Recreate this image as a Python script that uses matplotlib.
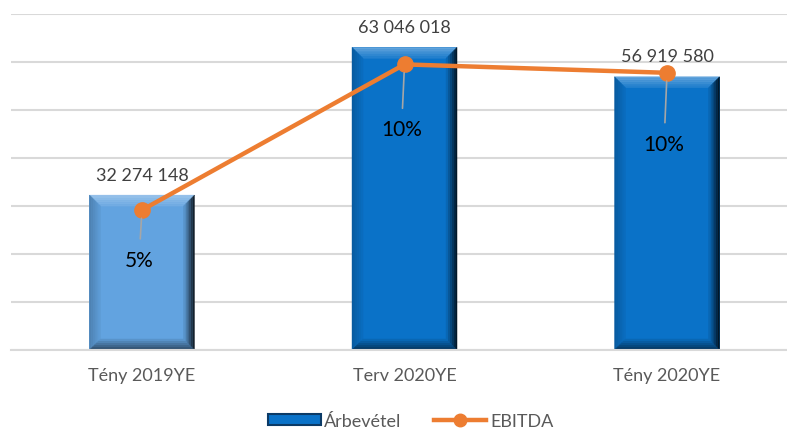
import matplotlib.pyplot as plt
import numpy as np
from matplotlib.patches import Polygon, Patch
from matplotlib.lines import Line2D

categories = ["Tény 2019YE", "Terv 2020YE", "Tény 2020YE"]
revenue = [32274148, 63046018, 56919580]
ebitda_pct = [0.050, 0.102, 0.099]
bar_colors = ["#62A3E0", "#0A72C8", "#0A72C8"]

plt.rcParams['font.family'] = ['Lato', 'DejaVu Sans']

fig = plt.figure(figsize=(7.87, 4.35), dpi=100)
ax = fig.add_axes([11 / 787, 84 / 435, 776 / 787, 336 / 435])
x = np.arange(len(categories))

ax.set_xlim(-0.499, 2.457)
ax.set_ylim(0, 70e6)
ax.set_yticks(np.arange(0, 70e6 + 1, 10e6))
ax.yaxis.grid(True, color="#D9D9D9", linewidth=1.5)
ax.set_axisbelow(True)
for s in ["top", "right", "left"]:
    ax.spines[s].set_visible(False)
ax.spines["bottom"].set_color("#D9D9D9")
ax.spines["bottom"].set_linewidth(1.5)

bars = ax.bar(x, revenue, width=0.4, color=bar_colors, zorder=2)
ax.set_xticks(x)
ax.set_xticklabels(categories)


def shade(c, f):
    c = np.array(plt.matplotlib.colors.to_rgb(c))
    if f < 1:
        return tuple(c * f)
    return tuple(c + (1 - c) * (f - 1))


def bevel(rect, color, px=11, steps=6):
    # bevelled edges drawn in pixel units, converted back to data coords
    to_px = ax.transData
    x0, y0 = to_px.transform((rect.get_x(), 0))
    x1, y1 = to_px.transform((rect.get_x() + rect.get_width(), rect.get_height()))
    inv = to_px.inverted()
    for i in range(steps):
        a = px * i / steps
        b = px * (i + 1) / steps
        t = i / (steps - 1)
        faces = {
            "top": ([(x0 + a, y1 - a), (x1 - a, y1 - a), (x1 - b, y1 - b), (x0 + b, y1 - b)],
                    shade(color, 1.35 - 0.25 * t)),
            "left": ([(x0 + a, y0 + a), (x0 + a, y1 - a), (x0 + b, y1 - b), (x0 + b, y0 + b)],
                     shade(color, 0.8 + 0.15 * t)),
            "right": ([(x1 - a, y0 + a), (x1 - a, y1 - a), (x1 - b, y1 - b), (x1 - b, y0 + b)],
                      shade(color, 0.2 + 0.7 * t)),
            "bottom": ([(x0 + a, y0 + a), (x1 - a, y0 + a), (x1 - b, y0 + b), (x0 + b, y0 + b)],
                       shade(color, 0.45 + 0.45 * t)),
        }
        for pts, col in faces.values():
            ax.add_patch(Polygon(inv.transform(pts), closed=True, facecolor=col,
                                 edgecolor=col, linewidth=0.3, zorder=2.5))


for rect, col in zip(bars, bar_colors):
    bevel(rect, col)

for xi, v in zip(x, revenue):
    label = f"{v:,}".replace(",", " ")
    ax.annotate(label, (xi, v), xytext=(0, 9), textcoords="offset points",
                ha="center", va="bottom", fontsize=13, color="#404040")

ax2 = ax.twinx()
ax2.set_ylim(0, 0.12)
ax2.set_axis_off()
ax2.plot(x, ebitda_pct, color="#ED7D31", linewidth=3.2, marker="o",
         markersize=11, zorder=3)

# twinx switches the left ticks back on, so hide them afterwards
ax.tick_params(axis="y", left=False, right=False, labelleft=False, labelright=False)
ax.tick_params(axis="x", length=0, labelsize=13, labelcolor="#595959", pad=12)

offsets = [-50, -65, -71]
for xi, p, off in zip(x, ebitda_pct, offsets):
    ax2.annotate(f"{p:.0%}", (xi, p), xytext=(-3, off), textcoords="offset pixels",
                 ha="center", va="center", fontsize=15, color="black",
                 arrowprops=dict(arrowstyle="-", color="#A6A6A6", lw=1.2,
                                 shrinkA=6, shrinkB=-6))

handles = [Patch(facecolor="#0A72C8", edgecolor="#0B3A66", linewidth=1.5),
           Line2D([], [], color="#ED7D31", linewidth=3.2, marker="o", markersize=9)]
fig.legend(handles, ["Árbevétel", "EBITDA"], loc="center", bbox_to_anchor=(0.522, 0.03),
           ncol=2, frameon=False, fontsize=13, labelcolor="#595959",
           handlelength=2.9, handleheight=0.6, handletextpad=0.2, columnspacing=1.8)

fig.savefig("out.png", dpi=100)
